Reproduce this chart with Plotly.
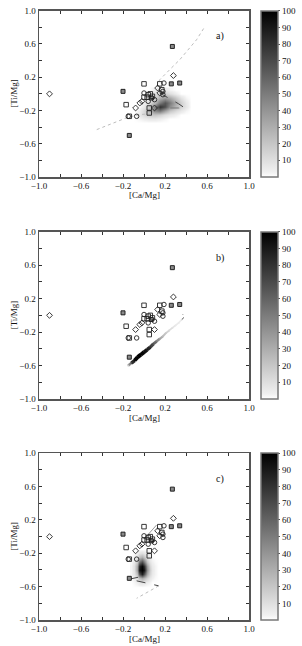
import plotly.graph_objects as go
from plotly.colors import sample_colorscale

# ---------------- observed stars (same in all panels) ----------------
filled_sq_x = [0.27, -0.20, -0.14, 0.34, 0.26, 0.07]
filled_sq_y = [0.57, 0.03, -0.50, 0.13, 0.12, -0.05]
open_sq_x = [0.00, 0.15, 0.17, 0.06, 0.00, 0.03, -0.17, 0.05, 0.05, -0.14, 0.08, 0.04]
open_sq_y = [0.12, 0.12, 0.05, 0.00, -0.04, -0.04, -0.13, -0.17, -0.23, -0.27, -0.03, -0.01]
circ_x = [0.19, 0.18, 0.00, 0.10, 0.04, -0.15, -0.07, 0.18]
circ_y = [0.13, -0.01, 0.01, -0.07, -0.09, -0.27, -0.27, 0.03]
diam_x = [-0.90, 0.28, 0.15, -0.02, -0.04, -0.08, 0.10, 0.13]
diam_y = [0.00, 0.22, 0.01, -0.09, -0.11, -0.17, -0.17, 0.07]

# ---------------- panel a: model density grid ----------------
a_gx = [-0.10, -0.05, 0.00, 0.05, 0.10, 0.15, 0.20, 0.25, 0.30, 0.35, 0.40, 0.45]
a_gy = [-0.35, -0.30, -0.25, -0.20, -0.15, -0.10, -0.05, 0.00, 0.05]
a_z = [
    [0, 0, 0, 0, 0, 0, 0, 0, 0, 0, 0, 0],
    [0, 2, 4, 6, 6, 4, 2, 0, 0, 0, 0, 0],
    [0, 5, 12, 18, 20, 16, 10, 6, 3, 0, 0, 0],
    [0, 3, 12, 25, 45, 52, 35, 20, 12, 6, 2, 0],
    [0, 0, 6, 18, 52, 80, 68, 42, 26, 15, 7, 0],
    [0, 0, 3, 10, 25, 50, 65, 50, 30, 16, 6, 0],
    [0, 0, 0, 5, 14, 28, 35, 30, 18, 8, 2, 0],
    [0, 0, 0, 3, 9, 16, 16, 10, 4, 0, 0, 0],
    [0, 0, 0, 0, 3, 6, 5, 2, 0, 0, 0, 0],
]
a_t1_x = [-0.45, -0.30, -0.17, -0.05, 0.05]
a_t1_y = [-0.43, -0.36, -0.29, -0.25, -0.24]
a_t2_x = [0.12, 0.15, 0.26, 0.34, 0.50, 0.58]
a_t2_y = [0.09, 0.17, 0.31, 0.41, 0.65, 0.81]
a_t3_x = [0.15, 0.25, 0.33, 0.40]
a_t3_y = [0.01, -0.06, -0.12, -0.18]
a_t4_x = [0.25, 0.33, 0.40]
a_t4_y = [-0.17, -0.17, -0.19]

# ---------------- panel b: narrow model band ----------------
b_bx = [-0.15, -0.12, -0.09, -0.06, -0.03, 0.00, 0.03, 0.06, 0.09,
        0.12, 0.15, 0.18, 0.21, 0.24, 0.27, 0.30, 0.33, 0.36]
b_by = [-0.60, -0.57, -0.54, -0.50, -0.47, -0.44, -0.41, -0.38, -0.34,
        -0.31, -0.28, -0.25, -0.21, -0.18, -0.15, -0.12, -0.09, -0.05]
b_bd = [20, 70, 95, 100, 100, 95, 90, 80, 65, 50, 35, 25, 18, 12, 9, 6, 5, 4]
b_t1_x = [0.36, 0.385, 0.37]
b_t1_y = [-0.05, -0.02, 0.01]

# ---------------- panel c: model density grid ----------------
c_gx = [-0.12, -0.095, -0.07, -0.045, -0.02, 0.005, 0.03, 0.055, 0.08, 0.105, 0.13]
c_gy = [-0.60, -0.55, -0.50, -0.45, -0.40, -0.35, -0.30, -0.25, -0.20, -0.15]
c_z = [
    [0, 0, 0, 0, 0, 0, 0, 0, 0, 0, 0],
    [0, 2, 4, 7, 9, 7, 4, 2, 0, 0, 0],
    [1, 4, 10, 22, 30, 24, 14, 6, 3, 1, 0],
    [2, 7, 22, 65, 88, 65, 30, 12, 5, 2, 0],
    [2, 9, 35, 92, 100, 90, 40, 15, 6, 2, 0],
    [2, 9, 32, 85, 98, 80, 35, 12, 5, 2, 0],
    [1, 6, 20, 55, 70, 50, 20, 7, 3, 1, 0],
    [0, 3, 9, 22, 30, 20, 8, 3, 1, 0, 0],
    [0, 1, 3, 8, 10, 7, 3, 1, 0, 0, 0],
    [0, 0, 0, 0, 0, 0, 0, 0, 0, 0, 0],
]
c_t1_x = [0.00, 0.12]
c_t1_y = [-0.03, 0.14]
c_t2_x = [-0.14, -0.05, 0.01]
c_t2_y = [-0.51, -0.49, -0.47]
c_t3_x = [-0.07, 0.03, 0.14]
c_t3_y = [-0.53, -0.56, -0.59]
c_t4_x = [0.14, 0.03, -0.07]
c_t4_y = [-0.59, -0.67, -0.74]

panel_labels = ["a)", "b)", "c)"]
cbar_ticks = [10, 20, 30, 40, 50, 60, 70, 80, 90, 100]

# ---------------- layout geometry (page pixels) ----------------
W, H = 302, 646
x0px, x1px = 39, 249
panels_px = [(10.7, 177.0), (231.7, 399.0), (453.3, 620.0)]
cbar_left = 261
ytitle_x = 14

FONT = "Liberation Serif"
gray_scale = [[0.0, "#ffffff"], [0.03, "#f0f0f0"], [1.0, "#000000"]]

fig = go.Figure()

def ax(i):
    return ("x" if i == 0 else f"x{i+1}"), ("y" if i == 0 else f"y{i+1}")

def add_line(i, xs, ys, color, dash, width=1):
    xa, ya = ax(i)
    fig.add_trace(go.Scatter(x=xs, y=ys, mode="lines", xaxis=xa, yaxis=ya,
                             line=dict(color=color, dash=dash, width=width),
                             hoverinfo="skip", showlegend=False))

def add_stars(i):
    xa, ya = ax(i)
    fig.add_trace(go.Scatter(x=filled_sq_x, y=filled_sq_y, mode="markers", xaxis=xa, yaxis=ya,
                             marker=dict(symbol="square", size=4, color="#8a8a8a",
                                         line=dict(color="#222", width=1)),
                             showlegend=False))
    for xs, ys, sym in [(open_sq_x, open_sq_y, "square-open"),
                        (circ_x, circ_y, "circle-open"),
                        (diam_x, diam_y, "diamond-open")]:
        fig.add_trace(go.Scatter(x=xs, y=ys, mode="markers", xaxis=xa, yaxis=ya,
                                 marker=dict(symbol=sym, size=4.5, color="#222",
                                             line=dict(width=0.9)),
                                 showlegend=False))

# panel a
fig.add_trace(go.Heatmap(x=a_gx, y=a_gy, z=a_z, zsmooth="best", coloraxis="coloraxis",
                         xaxis="x", yaxis="y", hoverinfo="skip"))
add_line(0, a_t1_x, a_t1_y, "#bdbdbd", "dot")
add_line(0, a_t2_x, a_t2_y, "#bdbdbd", "dot")
add_line(0, a_t3_x, a_t3_y, "#444444", "dash")
add_line(0, a_t4_x, a_t4_y, "#777777", "dash")
add_stars(0)

# panel b: band drawn as shaded segments, density through the shared grey scale
for k in range(len(b_bx) - 1):
    dmid = (b_bd[k] + b_bd[k + 1]) / 2
    col = sample_colorscale(gray_scale, [dmid / 100])[0]
    fig.add_trace(go.Scatter(x=b_bx[k:k + 2], y=b_by[k:k + 2], mode="lines",
                             xaxis="x2", yaxis="y2",
                             line=dict(color=col, width=1.5 + 2.5 * dmid / 100),
                             hoverinfo="skip", showlegend=False))
fig.add_trace(go.Scatter(x=b_bx, y=b_by, mode="markers", xaxis="x2", yaxis="y2",
                         marker=dict(size=2, color=b_bd, coloraxis="coloraxis2",
                                     line=dict(width=0)),
                         hoverinfo="skip", showlegend=False))
add_line(1, b_t1_x, b_t1_y, "#555555", "dot")
add_stars(1)

# panel c
fig.add_trace(go.Heatmap(x=c_gx, y=c_gy, z=c_z, zsmooth="best", coloraxis="coloraxis3",
                         xaxis="x3", yaxis="y3", hoverinfo="skip"))
add_line(2, c_t1_x, c_t1_y, "#999999", "solid")
add_line(2, c_t2_x, c_t2_y, "#444444", "dash")
add_line(2, c_t3_x, c_t3_y, "#444444", "dash")
add_line(2, c_t4_x, c_t4_y, "#bdbdbd", "dot")
add_stars(2)

axis_common = dict(range=[-1, 1], tick0=-1, dtick=0.4, tickformat=".1f",
                   ticks="inside", ticklen=3, tickcolor="#333",
                   showline=True, linecolor="#555", linewidth=1.5, mirror="allticks",
                   showgrid=False, zeroline=False, automargin=False,
                   minor=dict(tick0=-1, dtick=0.2, ticks="inside", ticklen=3, tickcolor="#333"),
                   tickfont=dict(family=FONT, size=9, color="#111"), fixedrange=True)

layout = dict(width=W, height=H, margin=dict(l=0, r=0, t=0, b=0, autoexpand=False),
              paper_bgcolor="white", plot_bgcolor="white", showlegend=False,
              font=dict(family=FONT, size=9, color="#111"))
annotations = []
for i, (top, bot) in enumerate(panels_px):
    xa, ya = ax(i)
    xkey = "xaxis" if i == 0 else f"xaxis{i+1}"
    ykey = "yaxis" if i == 0 else f"yaxis{i+1}"
    layout[xkey] = dict(axis_common, domain=[x0px / W, x1px / W], anchor=ya)
    layout[ykey] = dict(axis_common, domain=[1 - bot / H, 1 - top / H], anchor=xa)
    cakey = "coloraxis" if i == 0 else f"coloraxis{i+1}"
    layout[cakey] = dict(cmin=0, cmax=100, colorscale=gray_scale,
                         colorbar=dict(x=cbar_left / W, xanchor="left", xpad=0, ypad=0,
                                       y=1 - (top + bot) / 2 / H, yanchor="middle",
                                       len=(bot - top) / H, lenmode="fraction",
                                       thickness=17, outlinewidth=1.5, outlinecolor="#777",
                                       tickvals=cbar_ticks, ticks="outside", ticklen=2,
                                       tickcolor="#555",
                                       tickfont=dict(family=FONT, size=9, color="#111")))
    annotations.append(dict(x=0.72, y=0.69, xref=xa, yref=ya, text=panel_labels[i],
                            showarrow=False, font=dict(family=FONT, size=10, color="#111")))
    annotations.append(dict(x=(x0px + x1px) / 2 / W, y=1 - (bot + 18.5) / H,
                            xref="paper", yref="paper", text="[Ca/Mg]", showarrow=False,
                            yanchor="middle", font=dict(family=FONT, size=9, color="#111")))
    annotations.append(dict(x=ytitle_x / W, y=1 - (top + bot) / 2 / H, xref="paper", yref="paper",
                            text="[Ti/Mg]", textangle=-90, showarrow=False,
                            xanchor="center", yanchor="middle",
                            font=dict(family=FONT, size=9, color="#111")))
layout["annotations"] = annotations
fig.update_layout(**layout)

fig.write_html("out.html", config={"displayModeBar": False, "staticPlot": True},
               post_script="document.body.style.margin='0';document.body.style.overflow='hidden';")
